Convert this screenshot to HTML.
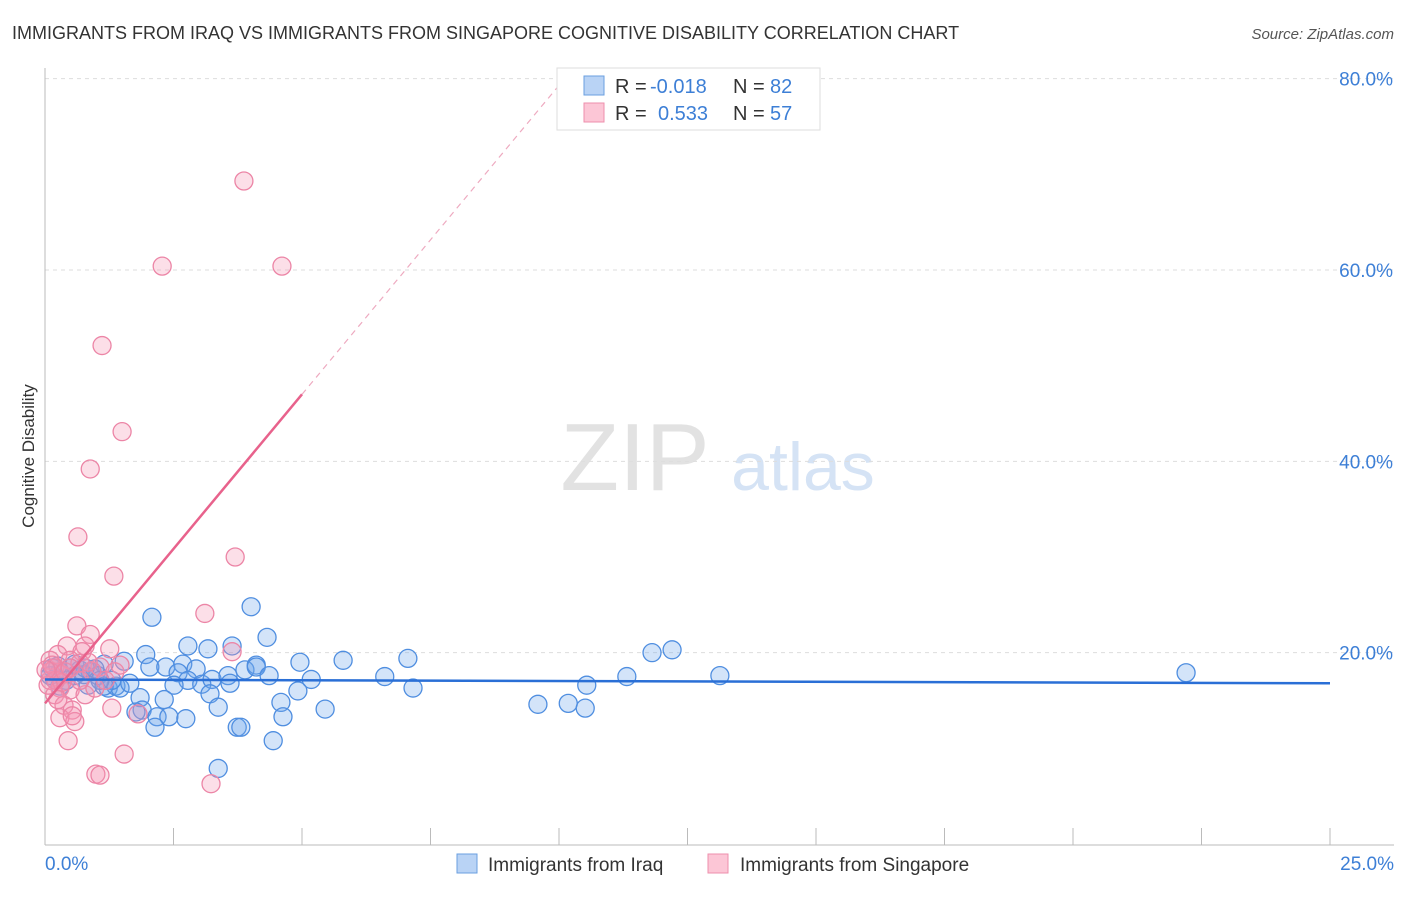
<!DOCTYPE html>
<html><head><meta charset="utf-8"><style>
body{margin:0;background:#fff;font-family:"Liberation Sans",sans-serif;}
svg text{font-family:"Liberation Sans",sans-serif;}
</style></head><body>
<svg id="chart" width="1406" height="892" xmlns="http://www.w3.org/2000/svg">
<text x="12" y="39" font-size="18" fill="#333">IMMIGRANTS FROM IRAQ VS IMMIGRANTS FROM SINGAPORE COGNITIVE DISABILITY CORRELATION CHART</text>
<text x="1394" y="39" font-size="15" fill="#555" text-anchor="end" font-style="italic">Source: ZipAtlas.com</text>
<text x="635" y="490" font-size="96" fill="#e2e2e2" text-anchor="middle" font-family="Liberation Serif">ZIP</text>
<text x="803" y="490" font-size="68" fill="#d5e3f5" text-anchor="middle">atlas</text>
<g id="grid"></g>
<g id="axes"></g>
<g id="marks"></g>
<g id="lines"></g>
<text transform="translate(34,456) rotate(-90)" font-size="17" fill="#333" text-anchor="middle">Cognitive Disability</text>
<g>
<rect x="557" y="68" width="263" height="62" fill="#fff" stroke="#ddd"/>
<rect x="584" y="76" width="20" height="19" fill="#b9d3f5" stroke="#6a9fe0"/>
<rect x="584" y="103" width="20" height="19" fill="#fcc6d6" stroke="#ee8fac"/>
<text x="615" y="93" font-size="20" fill="#333">R =</text>
<text x="650" y="93" font-size="20" fill="#3d7fd6">-0.018</text>
<text x="733" y="93" font-size="20" fill="#333">N =</text>
<text x="770" y="93" font-size="20" fill="#3d7fd6">82</text>
<text x="615" y="120" font-size="20" fill="#333">R =</text>
<text x="658" y="120" font-size="20" fill="#3d7fd6">0.533</text>
<text x="733" y="120" font-size="20" fill="#333">N =</text>
<text x="770" y="120" font-size="20" fill="#3d7fd6">57</text>
</g>
<g>
<rect x="457" y="854" width="20" height="19" fill="#b9d3f5" stroke="#6a9fe0"/>
<text x="488" y="871" font-size="19" fill="#333">Immigrants from Iraq</text>
<rect x="708" y="854" width="20" height="19" fill="#fcc6d6" stroke="#ee8fac"/>
<text x="740" y="871" font-size="19" fill="#333">Immigrants from Singapore</text>
</g>
</svg>
<script>
const iraqX=[2.08,4.01,2.78,3.17,3.64,4.32,1.96,1.54,1.15,2.04,2.35,2.68,2.94,2.59,2.78,2.51,3.05,3.25,3.56,3.89,4.11,3.60,4.11,4.36,4.96,5.18,4.92,5.80,6.61,7.06,7.16,4.59,4.63,5.45,3.21,3.37,2.32,1.85,1.89,1.77,2.18,2.41,2.74,2.14,3.74,3.81,4.44,3.37,9.59,10.18,10.51,10.54,11.32,11.81,12.20,13.13,22.2,0.14,0.29,0.49,0.58,0.68,0.88,1.03,1.23,1.38,1.46,1.65,1.30,0.76,0.97,1.07,0.19,0.41,0.84,1.15,0.29,0.10,0.25,0.58,0.78];
const iraqY=[23.7,24.8,20.7,20.4,20.7,21.6,19.8,19.1,18.8,18.5,18.5,18.8,18.3,17.9,17.1,16.6,16.7,17.2,17.6,18.2,18.7,16.8,18.5,17.6,19.0,17.2,16.0,19.2,17.5,19.4,16.3,14.8,13.3,14.1,15.7,14.3,15.1,15.3,14.0,13.8,13.3,13.3,13.1,12.2,12.2,12.2,10.8,7.9,14.6,14.7,14.2,16.6,17.5,20.0,20.3,17.6,17.9,18.4,18.0,18.4,17.6,18.2,18.0,17.6,16.3,16.5,16.3,16.8,17.1,17.7,18.3,17.1,17.2,17.1,16.6,16.5,16.5,17.6,18.6,18.8,18.4];
const sgX=[3.87,2.28,4.61,1.11,1.50,0.88,0.64,3.70,1.34,3.11,3.64,0.62,0.88,0.78,0.43,0.72,1.26,0.25,0.49,0.68,1.07,0.91,0.10,0.19,0.33,0.10,0.29,0.49,0.19,0.78,0.37,0.53,0.29,0.58,0.53,0.45,1.30,1.81,1.54,0.99,1.07,3.23,0.10,0.14,0.21,0.33,0.06,0.39,0.49,0.02,0.97,1.17,0.68,0.25,0.84,1.36,1.46];
const sgY=[69.3,60.4,60.4,52.1,43.1,39.2,32.1,30.0,28.0,24.1,20.1,22.8,21.9,20.7,20.7,20.1,20.4,19.8,19.2,18.9,18.5,18.1,19.2,18.4,17.7,17.1,16.3,16.1,15.6,15.6,14.5,14.0,13.2,12.8,13.4,10.8,14.2,13.6,9.4,7.3,7.2,6.3,18.0,18.7,17.1,16.9,16.6,18.0,18.4,18.2,16.3,17.1,17.1,15.1,19.0,18.0,18.7];
const yTicks=[20,40,60,80];
const yTickLabels=["20.0%","40.0%","60.0%","80.0%"];
const xTicks=[0,2.5,5,7.5,10,12.5,15,17.5,20,22.5,25];
const iraqFit=[17.2,16.8];
const sgFit=[14.7,47.0,79.3];
const sgFitX=[0,5,10];
const NS="http://www.w3.org/2000/svg";
const X=v=>45+v*51.4, Y=v=>844-v*9.567;
function mk(tag,attrs,parent){const e=document.createElementNS(NS,tag);for(const k in attrs)e.setAttribute(k,attrs[k]);document.getElementById(parent).appendChild(e);return e;}
yTicks.forEach((t,i)=>{
 const g=mk('line',{x1:45,x2:1394,y1:Y(t),y2:Y(t),stroke:'#ddd','stroke-dasharray':'4,4'},'grid');
 
 
 const l=mk('text',{x:1393,y:Y(t)+7,'font-size':19,fill:'#3d7fd6','text-anchor':'end'},'grid');
 
 
 l.textContent=yTickLabels[i];
});
const ax=mk('line',{x1:45,x2:1394,y1:845,y2:845,stroke:'#bbb'},'axes');


const ay=mk('line',{x1:45,x2:45,y1:68,y2:845,stroke:'#bbb'},'axes');


xTicks.forEach(t=>{const k=mk('line',{x1:X(t),x2:X(t),y1:828,y2:845,stroke:'#bbb'},'axes');
 
 });
const x0=mk('text',{x:45,y:870,'font-size':19,fill:'#3d7fd6'},'axes');


x0.textContent='0.0%';
const x1=mk('text',{x:1394,y:870,'font-size':19,fill:'#3d7fd6','text-anchor':'end'},'axes');


x1.textContent='25.0%';
iraqX.forEach((x,i)=>{const c=mk('circle',{cx:X(x),cy:Y(iraqY[i]),r:9,fill:'rgba(110,165,235,0.3)',stroke:'#4f8ee0','stroke-width':1.3},'marks');
 
 });
sgX.forEach((x,i)=>{const c=mk('circle',{cx:X(x),cy:Y(sgY[i]),r:9,fill:'rgba(245,150,180,0.3)',stroke:'#ec85a6','stroke-width':1.3},'marks');
 
 });
const bl=mk('line',{x1:X(0),x2:X(25),y1:Y(iraqFit[0]),y2:Y(iraqFit[1]),stroke:'#2a6fd6','stroke-width':2.5},'lines');


const pl=mk('line',{x1:X(sgFitX[0]),x2:X(sgFitX[1]),y1:Y(sgFit[0]),y2:Y(sgFit[1]),stroke:'#e8628c','stroke-width':2.5},'lines');


const pd=mk('line',{x1:X(sgFitX[1]),x2:X(sgFitX[2]),y1:Y(sgFit[1]),y2:Y(sgFit[2]),stroke:'#eeaac0','stroke-width':1.2,'stroke-dasharray':'6,5'},'lines');


</script>
</body></html>
